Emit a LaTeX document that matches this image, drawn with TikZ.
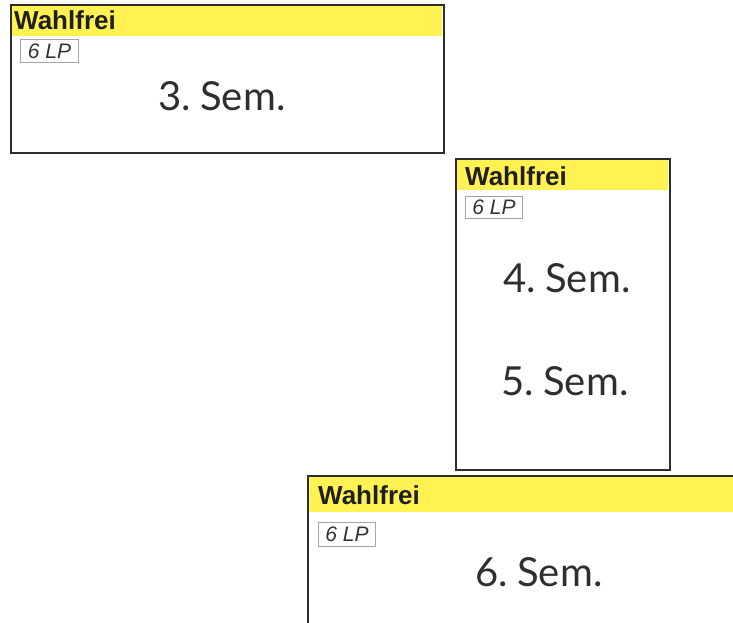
\documentclass[tikz,border=0pt]{standalone}
\usepackage{fontspec}
\setmainfont{Lato}[WordSpace=0.55]
\newfontfamily\arialfont{Liberation Sans}
\usetikzlibrary{positioning}
\definecolor{gelb}{RGB}{255,242,82}
\definecolor{rahmen}{RGB}{45,45,45}
\definecolor{lpgrau}{RGB}{165,165,165}
\tikzset{
  semframe/.style={rectangle,draw=rahmen,line width=2pt,anchor=north west,inner sep=0pt},
  kopf/.style={rectangle,fill=gelb,anchor=north west,inner sep=0pt},
  kopftext/.style={anchor=base west,inner sep=0pt,text=black!88,
    font=\arialfont\bfseries\fontsize{26}{26}\selectfont},
  lpbox/.style={rectangle,draw=lpgrau,line width=1pt,anchor=north west,inner sep=0pt,
    text=black!80,font=\arialfont\itshape\fontsize{21}{21}\selectfont},
  semlabel/.style={inner sep=0pt,text=black!82,font=\fontsize{40}{40}\selectfont},
}

\begin{document}
\begin{tikzpicture}[x=1pt,y=-1pt]
\useasboundingbox (0,0) rectangle (733,622);
\clip (0,0) rectangle (733,622);

% --- 3. Semester ---
\node[kopf,minimum width=431pt,minimum height=31pt] (kopfA) at (11,5) {};
\node[semframe,minimum width=433pt,minimum height=148pt] (boxA) at (10,4) {};
\node[kopftext] (wahlA) at (14,29) {Wahlfrei};
\node[lpbox,minimum width=58pt,minimum height=23pt] (lpA) at (20,39) {6 LP};
\node[semlabel] (semA) at (222,96) {3. Sem.};

% --- 4./5. Semester ---
\node[kopf,minimum width=212pt,minimum height=31pt] (kopfB) at (456,159) {};
\node[semframe,minimum width=214pt,minimum height=311pt] (boxB) at (455,158) {};
\node[kopftext] (wahlB) at (465,185) {Wahlfrei};
\node[lpbox,minimum width=57pt,minimum height=22pt] (lpB) at (465,196) {6 LP};
\node[semlabel] (semB) at (567,278) {4. Sem.};
\node[semlabel] (semC) at (565,381) {5. Sem.};

% --- 6. Semester (angeschnitten) ---
\node[kopf,minimum width=440pt,minimum height=36pt] (kopfD) at (308,476) {};
\node[semframe,minimum width=450pt,minimum height=200pt] (boxD) at (307,475) {};
\node[kopftext] (wahlD) at (318,504) {Wahlfrei};
\node[lpbox,minimum width=57pt,minimum height=24pt] (lpD) at (318,522) {6 LP};
\node[semlabel] (semD) at (539,572) {6. Sem.};
\end{tikzpicture}
\end{document}
